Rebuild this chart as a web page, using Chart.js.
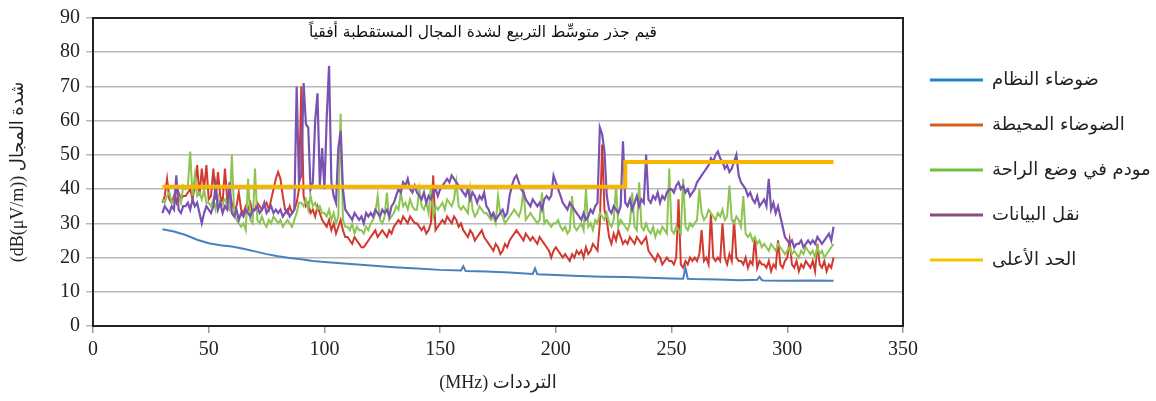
<!DOCTYPE html>
<html lang="ar">
<head>
<meta charset="utf-8">
<title>شدة المجال</title>
<script src="https://cdn.jsdelivr.net/npm/chart.js@4/dist/chart.umd.min.js"></script>
<style>
  html, body { margin: 0; padding: 0; background: #fff; }
  #grafica { display: block; }
</style>
</head>
<body>
<canvas id="grafica" width="1156" height="401"></canvas>
<script>
// frecuencias en MHz (paso de 1 MHz, 30 a 320)
const freq = [];
for (let f = 30; f <= 320; f++) freq.push(f);

const xTicks = [0, 50, 100, 150, 200, 250, 300, 350];
const yTicks = [0, 10, 20, 30, 40, 50, 60, 70, 80, 90];

// ruido del sistema (curva suave con pocos picos)
const sistemaFreq = [30, 35, 40, 45, 50, 55, 60, 65, 70, 75, 80, 85, 90, 95, 100, 110, 120, 130, 140, 150, 159, 160, 161, 170, 180, 190, 191, 192, 200, 210, 220, 230, 240, 250, 255, 256, 257, 260, 270, 280, 287, 288, 289, 290, 300, 310, 320];
const sistema = [28.3, 27.6, 26.6, 25.2, 24.2, 23.6, 23.2, 22.6, 21.8, 21.0, 20.4, 19.9, 19.5, 19.0, 18.7, 18.2, 17.7, 17.2, 16.8, 16.4, 16.2, 17.5, 16.1, 15.9, 15.6, 15.2, 16.8, 15.1, 14.9, 14.6, 14.4, 14.3, 14.1, 13.9, 13.8, 17.0, 13.8, 13.7, 13.6, 13.4, 13.5, 14.4, 13.4, 13.3, 13.2, 13.3, 13.2];

// ruido ambiente
const ambiente = [
  36, 38, 43, 37, 36, 38, 36, 39, 37, 38,
  38, 39, 40, 37, 41, 47, 38, 46, 40, 47,
  37, 38, 46, 37, 45, 38, 36, 46, 37, 39,
  36, 34, 35, 39, 34, 33, 35, 34, 36, 33,
  34, 36, 35, 34, 35, 36, 34, 37, 40, 43,
  45, 43, 38, 34, 33, 35, 33, 34, 36, 40,
  70, 38, 35, 36, 33, 34, 32, 35, 33, 31,
  30, 29, 31, 28, 30, 27, 29, 31, 28, 26,
  26, 25, 24, 26, 25, 24, 23, 23, 24, 25,
  26, 27, 28, 26, 27, 28, 27, 26, 28, 27,
  29, 30, 31, 30, 32, 31, 30, 32, 31, 30,
  30, 29, 28, 29, 27, 28, 30, 44, 28, 29,
  30, 31, 30, 32, 31, 30, 32, 31, 29, 30,
  28, 27, 26, 28, 27, 25, 26, 27, 28, 26,
  25, 24, 23, 22, 24, 23, 21, 22, 24, 23,
  25, 26, 27, 28, 27, 26, 25, 27, 26, 25,
  26, 25, 24, 26, 25, 24, 23, 22, 20, 22,
  23, 22, 21, 20, 21, 20, 19, 21, 20, 22,
  21, 22, 20, 23, 21, 22, 24, 23, 22, 30,
  53, 34, 31, 26, 24, 27, 25, 28, 26, 24,
  25, 24, 26, 25, 24, 26, 25, 24, 25, 26,
  22, 21, 20, 19, 21, 20, 18, 19, 20, 19,
  19, 18, 20, 37, 18, 17, 19, 18, 20, 19,
  20, 19, 21, 28, 19, 20, 18, 33, 20, 19,
  20, 19, 30, 20, 18, 21, 19, 31, 20, 19,
  19, 18, 20, 17, 19, 18, 26, 17, 19, 18,
  18, 17, 19, 16, 18, 17, 25, 18, 17, 19,
  20, 25, 18, 17, 19, 16, 18, 17, 19, 18,
  17, 19, 16, 24, 18, 17, 19, 16, 18, 17,
  20
];

// modem en reposo
const reposo = [
  37, 36, 38, 39, 36, 37, 40, 38, 36, 41,
  40, 41, 51, 38, 44, 38, 39, 37, 40, 36,
  36, 35, 37, 34, 38, 35, 36, 37, 35, 34,
  50, 33, 31, 30, 29, 30, 28, 43, 31, 30,
  46, 31, 30, 32, 30, 29, 31, 30, 32, 31,
  30, 31, 29, 30, 31, 30, 29, 31, 33, 36,
  36, 35, 37, 34, 38, 35, 36, 34, 35, 33,
  33, 32, 34, 31, 33, 30, 32, 62, 31, 29,
  29, 28, 30, 27, 29, 28, 28, 27, 29, 28,
  30, 31, 33, 38, 31, 30, 32, 39, 31, 32,
  33, 35, 34, 39, 35, 36, 34, 37, 35, 34,
  34, 40, 35, 34, 36, 33, 41, 32, 35, 34,
  35, 36, 34, 37, 36, 35, 37, 42, 35, 34,
  35, 34, 33, 40, 34, 32, 33, 35, 34, 33,
  33, 32, 31, 32, 30, 38, 33, 32, 30, 31,
  32, 33, 34, 33, 32, 34, 40, 31, 32, 33,
  32, 31, 30, 31, 39, 30, 31, 30, 29, 30,
  30, 31, 29, 28, 29, 27, 28, 38, 29, 28,
  29, 30, 28, 40, 29, 30, 28, 31, 30, 33,
  32, 31, 33, 30, 29, 31, 41, 29, 31, 30,
  29, 28, 30, 39, 29, 28, 42, 29, 28, 30,
  28, 27, 29, 26, 28, 27, 29, 28, 27, 46,
  28, 27, 29, 28, 27, 43, 29, 28, 30, 29,
  30, 31, 40, 33, 31, 32, 34, 33, 32, 31,
  33, 32, 34, 31, 32, 41, 31, 30, 32, 31,
  29, 38, 27, 26, 27, 25, 26, 24, 25, 23,
  24, 23, 22, 24, 23, 22, 24, 23, 22, 21,
  22, 23, 21, 22, 21, 20, 22, 21, 23, 22,
  21, 22, 20, 23, 21, 22, 20, 21, 22, 23,
  24
];

// transferencia de datos
const datos = [
  33, 35, 34, 33, 35, 34, 44, 34, 33, 35,
  35, 36, 34, 37, 35, 36, 33, 30, 33, 35,
  34, 33, 35, 41, 34, 36, 33, 35, 34, 42,
  33, 32, 34, 31, 33, 32, 34, 33, 32, 34,
  34, 35, 33, 34, 36, 33, 34, 35, 33, 34,
  33, 34, 32, 33, 34, 32, 33, 34, 70, 42,
  44, 71, 59, 58, 40, 42, 60, 68, 41, 52,
  40, 61, 76, 42, 38, 36, 52, 57, 40, 34,
  33, 32, 31, 33, 32, 31, 32, 30, 33, 32,
  33, 32, 34, 33, 32, 34, 33, 34, 32, 35,
  36, 38, 40, 39, 42, 41, 43, 40, 39, 41,
  39, 38, 37, 39, 36, 38, 37, 39, 40, 38,
  40, 41, 42, 43, 42, 44, 43, 42, 41, 40,
  39, 38, 40, 37, 39, 38, 36, 38, 37, 39,
  35, 34, 32, 33, 31, 32, 33, 34, 32, 33,
  38, 41, 43, 44, 42, 40, 39, 37, 36, 35,
  37, 36, 35, 36, 34, 37, 38, 37, 38, 44,
  42, 40, 38, 36, 35, 34, 36, 35, 34, 33,
  32, 31, 33, 31, 32, 34, 33, 35, 36, 58,
  56, 51, 38, 34, 33, 35, 34, 33, 35, 54,
  36, 35, 37, 34, 36, 38, 35, 37, 36, 50,
  37, 36, 38, 37, 39, 36, 38, 37, 39, 40,
  40, 39, 41, 42, 40, 41, 39, 40, 38, 39,
  40, 42, 43, 44, 45, 46, 47, 49, 48, 50,
  51, 49, 48, 46, 47, 45, 46, 48, 50, 44,
  42, 41, 40, 38, 39, 37, 36, 38, 35, 36,
  37, 35, 43, 34, 36, 33, 35, 32, 29, 26,
  25, 24, 25, 23, 24, 24, 25, 23, 24, 25,
  24, 25, 24, 26, 25, 24, 25, 26, 27, 25,
  29
];

// límite máximo
const limiteFreq = [30, 230, 230, 320];
const limite = [40.7, 40.7, 47.9, 47.9];

const etiquetas = ["ضوضاء النظام", "الضوضاء المحيطة", "مودم في وضع الراحة", "نقل البيانات", "الحد الأعلى"];
const coloresLinea = ["#4a7fc0", "#d2392f", "#8ec451", "#7a52b3", "#f7b500"];
const coloresLeyenda = ["#1a86d0", "#d35f1f", "#70c043", "#8b4b80", "#f5c400"];

const titulo = "قيم جذر متوسِّط التربيع لشدة المجال المستقطبة أفقياً";
const tituloY = "(dB(μV/m)) شدة المجال";
const tituloX = "(MHz) الترددات";

const puntos = (xs, ys) => xs.map((x, i) => ({ x: x, y: ys[i] }));

const fuenteNum = "'Liberation Serif', 'DejaVu Serif', serif";
const fuenteAr = "'DejaVu Sans', sans-serif";

// titulo dentro del area y marco negro
const marco = {
  id: "marco",
  afterDraw: (chart) => {
    const { ctx, chartArea } = chart;
    ctx.save();
    ctx.strokeStyle = "#222";
    ctx.lineWidth = 2;
    ctx.strokeRect(chartArea.left, chartArea.top, chartArea.right - chartArea.left, chartArea.bottom - chartArea.top);
    ctx.fillStyle = "#111";
    ctx.font = "15.5px " + fuenteAr;
    ctx.textAlign = "center";
    ctx.textBaseline = "middle";
    ctx.fillText(titulo, 483, 33);
    ctx.restore();
  },
};

const series = [
  { datos: puntos(sistemaFreq, sistema), ancho: 2, orden: 4 },
  { datos: puntos(freq, ambiente), ancho: 2, orden: 3 },
  { datos: puntos(freq, reposo), ancho: 2, orden: 2 },
  { datos: puntos(freq, datos), ancho: 2.2, orden: 1 },
  { datos: puntos(limiteFreq, limite), ancho: 4, orden: 0 },
];

const chartConfig = {
  type: "line",
  data: {
    datasets: series.map((s, i) => ({
      label: etiquetas[i],
      data: s.datos,
      borderColor: coloresLinea[i],
      backgroundColor: coloresLinea[i],
      borderWidth: s.ancho,
      pointRadius: 0,
      tension: 0,
      order: s.orden,
    })),
  },
  options: {
    responsive: false,
    animation: false,
    events: [],
    layout: { padding: { top: 11, right: 0, left: 0, bottom: 0 } },
    plugins: {
      tooltip: { enabled: false },
      legend: {
        position: "right",
        align: "start",
        maxWidth: 253,
        title: { display: true, text: " ", font: { size: 10 }, padding: { top: 0, bottom: 21 } },
        labels: {
          boxWidth: 53,
          boxHeight: 3,
          padding: 27,
          color: "#222",
          font: { family: fuenteAr, size: 18 },
          sort: (a, b) => a.datasetIndex - b.datasetIndex,
          generateLabels: (chart) =>
            Chart.defaults.plugins.legend.labels.generateLabels(chart).map((item) => ({
              ...item,
              fillStyle: coloresLeyenda[item.datasetIndex],
              strokeStyle: coloresLeyenda[item.datasetIndex],
              lineWidth: 0,
            })),
        },
      },
    },
    scales: {
      x: {
        type: "linear",
        min: 0,
        max: 350,
        afterFit: (scale) => { scale.height = 75; },
        afterBuildTicks: (scale) => { scale.ticks = xTicks.map((v) => ({ value: v })); },
        ticks: { color: "#222", padding: 5, maxRotation: 0, font: { family: fuenteNum, size: 20 } },
        grid: { drawOnChartArea: false, drawTicks: true, tickLength: 7, color: "#999", lineWidth: 1.5 },
        border: { display: true, color: "#222", width: 2 },
        title: {
          display: true,
          text: tituloX,
          color: "#222",
          font: { family: fuenteNum + ", " + fuenteAr, size: 18 },
          padding: { top: 0, bottom: 7 },
        },
      },
      y: {
        min: 0,
        max: 90,
        afterFit: (scale) => { scale.width = 93; },
        afterBuildTicks: (scale) => { scale.ticks = yTicks.map((v) => ({ value: v })); },
        ticks: { color: "#222", padding: 6, font: { family: fuenteNum, size: 20 } },
        grid: { color: "#b8b8b8", lineWidth: 1.5, drawTicks: true, tickLength: 7 },
        border: { display: true, color: "#222", width: 2 },
        title: {
          display: true,
          text: tituloY,
          color: "#222",
          font: { family: fuenteNum + ", " + fuenteAr, size: 18 },
          padding: { top: 7, bottom: 0 },
        },
      },
    },
  },
  plugins: [marco],
};

document.addEventListener("DOMContentLoaded", () => {
  const grafica = new Chart(document.querySelector("#grafica"), chartConfig);
});
</script>
</body>
</html>
